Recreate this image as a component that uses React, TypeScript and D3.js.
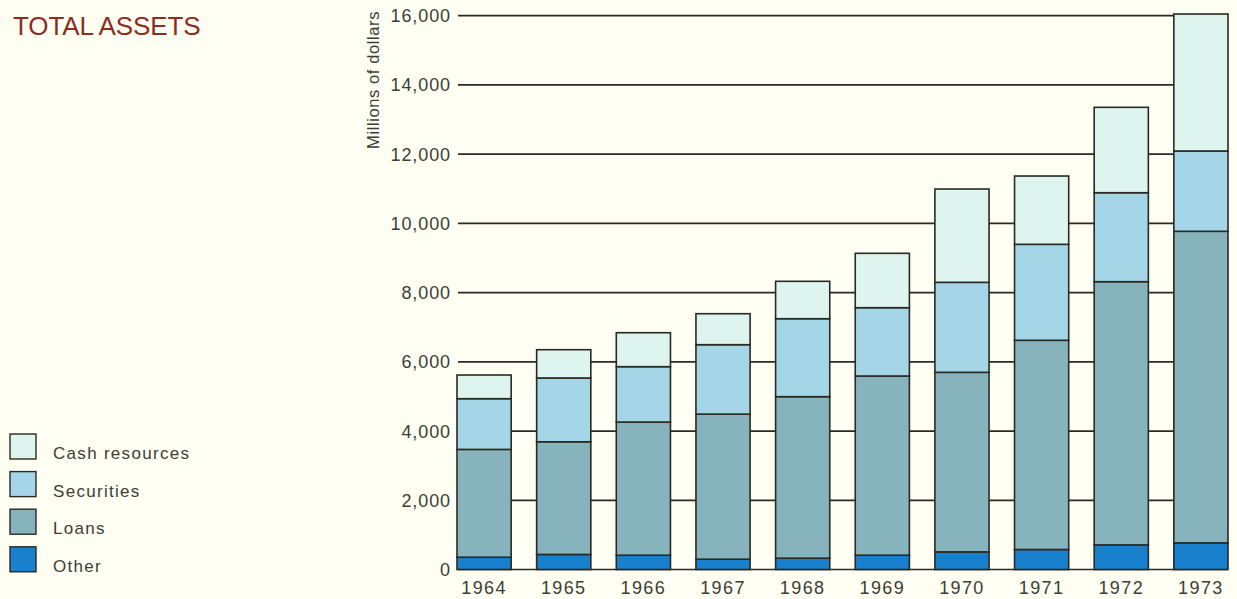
import React from "react";
import * as d3 from "d3";

// Total assets by year, millions of dollars
const years = ["1964", "1965", "1966", "1967", "1968", "1969", "1970", "1971", "1972", "1973"];
const other = [355, 435, 413, 298, 327, 413, 509, 578, 711, 769];
const loans = [3115, 3255, 3847, 4192, 4666, 5177, 5188, 6044, 7604, 9002];
const securities = [1465, 1843, 1600, 2005, 2253, 1974, 2600, 2773, 2571, 2320];
const cashResources = [684, 817, 981, 895, 1080, 1571, 2696, 1973, 2467, 3958];
const yTicks = [0, 2000, 4000, 6000, 8000, 10000, 12000, 14000, 16000];

const seriesKeys = ["other", "loans", "securities", "cash"];
const seriesLabels: Record<string, string> = {
  cash: "Cash resources",
  securities: "Securities",
  loans: "Loans",
  other: "Other",
};
const seriesColors: Record<string, string> = {
  cash: "#ddf4ef",
  securities: "#a4d6e8",
  loans: "#87b3bd",
  other: "#1880cc",
};

const W = 1237;
const H = 599;
const INK = "#2a2a22";
const TEXT = "#3d3d35";
const FONT = "'Liberation Sans', Arial, Helvetica, sans-serif";

export default function App() {
  const rows = years.map((y, i) => ({
    year: y,
    other: other[i],
    loans: loans[i],
    securities: securities[i],
    cash: cashResources[i],
  }));

  const x = d3.scaleBand<string>().domain(years).range([457, 1228]).paddingInner(0.32).paddingOuter(0);
  const y = d3.scaleLinear().domain([0, 16000]).range([569.5, 15.7]);
  const stack = d3.stack<any>().keys(seriesKeys)(rows);

  const gridLeft = 458;
  const gridRight = 1228;
  const fmt = d3.format(",");

  const legendOrder = ["cash", "securities", "loans", "other"];

  return (
    <div style={{ position: "fixed", left: 0, top: 0, width: W, height: H, background: "#fefef3" }}>
      <svg width={W} height={H} style={{ display: "block" }} fontFamily={FONT}>
        <rect x={0} y={0} width={W} height={H} fill="#fefef3" />

        <text x={13} y={34.5} fontSize={26} fill="#8c2d20" letterSpacing={-0.1}>
          TOTAL ASSETS
        </text>

        {/* gridlines behind the bars */}
        {yTicks.map((t) => (
          <line key={t} x1={gridLeft} x2={gridRight} y1={y(t)} y2={y(t)} stroke={INK} strokeWidth={1.7} />
        ))}

        {/* y tick labels */}
        {yTicks.map((t) => (
          <text
            key={"l" + t}
            x={451}
            y={y(t)}
            dy="0.36em"
            textAnchor="end"
            fontSize={18}
            letterSpacing={0.9}
            fill={TEXT}
          >
            {fmt(t)}
          </text>
        ))}

        <text
          transform={`translate(378.5,80) rotate(-90)`}
          textAnchor="middle"
          fontSize={16.5}
          letterSpacing={0.6}
          fill={TEXT}
        >
          Millions of dollars
        </text>

        {/* stacked bars */}
        {stack.map((layer) => (
          <g key={layer.key}>
            {layer.map((d: any) => (
              <rect
                key={d.data.year}
                x={x(d.data.year)}
                y={y(d[1])}
                width={x.bandwidth()}
                height={y(d[0]) - y(d[1])}
                fill={seriesColors[layer.key]}
                stroke={INK}
                strokeWidth={1.6}
              />
            ))}
          </g>
        ))}

        {/* year labels */}
        {years.map((yr) => (
          <text
            key={"y" + yr}
            x={(x(yr) as number) + x.bandwidth() / 2}
            y={594}
            textAnchor="middle"
            fontSize={18}
            letterSpacing={1.4}
            fill={TEXT}
          >
            {yr}
          </text>
        ))}

        {/* legend */}
        {legendOrder.map((k, i) => {
          const top = 434 + i * 37.6;
          return (
            <g key={"lg" + k}>
              <rect x={10} y={top} width={26} height={25} fill={seriesColors[k]} stroke={INK} strokeWidth={1.4} />
              <text x={53} y={top + 25} fontSize={17} letterSpacing={1.3} fill={TEXT}>
                {seriesLabels[k]}
              </text>
            </g>
          );
        })}
      </svg>
    </div>
  );
}
